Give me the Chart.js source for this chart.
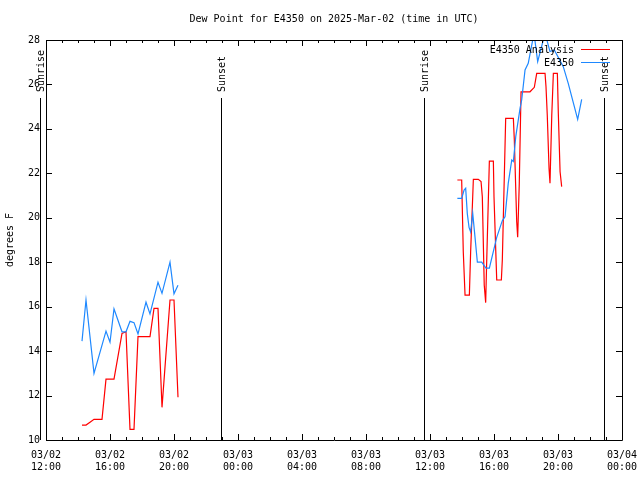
<!DOCTYPE html>
<html>
<head>
<meta charset="utf-8">
<script src="https://cdn.jsdelivr.net/npm/chart.js@4/dist/chart.umd.min.js"></script>
<style>
  html, body { margin: 0; padding: 0; background: #fff; }
  canvas { display: block; }
</style>
</head>
<body>
<canvas id="dewpoint" width="640" height="480"></canvas>
<script>
// Hours after 03/02 12:00 UTC (null value = gap between the two days)
const analysisHours = [
  2.25, 2.5, 2.75, 3.0, 3.5, 3.75, 4.25, 4.75, 5.0, 5.25, 5.5, 5.75, 6.5, 6.75, 7.0, 7.25, 7.75, 8.0, 8.25,
  16,
  25.71, 25.98, 26.08, 26.19, 26.46, 26.54, 26.71, 27.02, 27.19, 27.27, 27.39, 27.48, 27.54, 27.71, 27.96,
  28.0, 28.17, 28.46, 28.52, 28.73, 29.21, 29.27, 29.42, 29.48, 29.58, 29.69, 30.25, 30.52, 30.67, 31.19,
  31.25, 31.33, 31.44, 31.5, 31.61, 31.71, 31.96, 32.02, 32.13, 32.23
];
const analysisDew = [
  10.67, 10.67, 10.8, 10.93, 10.93, 12.74, 12.74, 14.8, 14.87, 10.48, 10.48, 14.65, 14.65, 15.92, 15.92, 11.47, 16.3, 16.3, 11.92,
  null,
  21.7, 21.7, 18.47, 16.52, 16.52, 18.47, 21.73, 21.73, 21.63, 20.95, 16.97, 16.18, 17.95, 22.55, 22.55,
  20.95, 17.2, 17.2, 18.1, 24.47, 24.47, 23.5, 19.82, 19.12, 21.55, 25.67, 25.67, 25.87, 26.5, 26.5,
  25.9, 24.6, 22.22, 21.55, 24.6, 26.5, 26.5, 24.7, 22.07, 21.4
];

const stationHours = [
  2.25, 2.5, 3.0, 3.75, 4.0, 4.25, 4.75, 5.0, 5.25, 5.5, 5.75, 6.25, 6.5, 7.0, 7.25, 7.75, 8.0, 8.25,
  16,
  25.71, 25.98, 26.13, 26.23, 26.33, 26.44, 26.54, 26.67, 26.81, 26.96, 27.23, 27.5, 27.71, 28.17, 28.52,
  28.69, 28.89, 29.11, 29.21, 29.36, 29.63, 29.73, 29.94, 30.14, 30.5, 30.73, 31.19, 31.5, 31.77, 32.33,
  32.64, 33.23, 33.48
];
const stationDew = [
  14.45, 16.3, 13.0, 14.9, 14.4, 15.9, 14.87, 14.87, 15.34, 15.28, 14.77, 16.2, 15.67, 17.1, 16.6, 18.0, 16.58, 16.96,
  null,
  20.87, 20.87, 21.25, 21.33, 20.2, 19.57, 19.37, 20.2, 19.15, 18.0, 18.0, 17.73, 17.73, 19.12, 19.87,
  20.05, 21.55, 22.6, 22.53, 23.65, 24.93, 25.3, 26.65, 26.95, 28.3, 27.03, 28.3, 27.48, 27.55, 26.8,
  26.05, 24.43, 25.33
];

// Sunrise / sunset markers (hours after 03/02 12:00 UTC)
const sunHours = [-0.375, 10.94, 23.625, 34.875];
const sunLabels = ["Sunrise", "Sunset", "Sunrise", "Sunset"];

// x tick labels every 4 hours
const tickDates = ["03/02", "03/02", "03/02", "03/03", "03/03", "03/03", "03/03", "03/03", "03/03", "03/04"];
const tickTimes = ["12:00", "16:00", "20:00", "00:00", "04:00", "08:00", "12:00", "16:00", "20:00", "00:00"];

const FONT = { family: "DejaVu Sans Mono", size: 10 };
const FONT_CSS = "10px 'DejaVu Sans Mono'";

const toPoints = (xs, ys) => xs.map((x, i) => ({ x: x, y: ys[i] }));

// gnuplot-like frame, inward ticks, sun lines, legend and title
const frame = {
  id: "frame",
  afterDraw(chart) {
    const { ctx, chartArea: a, scales } = chart;
    const xs = scales.x, ys = scales.y;
    const px = v => Math.round(v) + 0.5;
    ctx.save();
    ctx.strokeStyle = "#000";
    ctx.lineWidth = 1;
    ctx.beginPath();
    ctx.rect(px(a.left), px(a.top), Math.round(a.right) - Math.round(a.left), Math.round(a.bottom) - Math.round(a.top));
    // x ticks every hour, longer every 4 hours, bottom and top
    for (let h = 0; h <= 36; h++) {
      const x = px(xs.getPixelForValue(h));
      const len = h % 4 === 0 ? 6 : 3;
      ctx.moveTo(x, a.bottom); ctx.lineTo(x, a.bottom - len);
      ctx.moveTo(x, a.top); ctx.lineTo(x, a.top + len);
    }
    // y ticks on both sides
    ys.ticks.forEach(t => {
      const y = px(ys.getPixelForValue(t.value));
      ctx.moveTo(a.left, y); ctx.lineTo(a.left + 6, y);
      ctx.moveTo(a.right, y); ctx.lineTo(a.right - 6, y);
    });
    // sunrise / sunset lines
    sunHours.forEach(h => {
      const x = px(xs.getPixelForValue(h));
      ctx.moveTo(x, a.top + 58); ctx.lineTo(x, a.bottom);
    });
    ctx.stroke();

    ctx.fillStyle = "#000";
    ctx.font = FONT_CSS;
    sunHours.forEach((h, i) => {
      const x = xs.getPixelForValue(h);
      ctx.save();
      ctx.translate(x + 1, a.top + 52);
      ctx.rotate(-Math.PI / 2);
      ctx.textAlign = "left";
      ctx.textBaseline = "middle";
      ctx.fillText(sunLabels[i], 0, 0);
      ctx.restore();
    });

    // legend, top right inside the plot
    ctx.textAlign = "right";
    ctx.textBaseline = "middle";
    chart.data.datasets.forEach((ds, i) => {
      const y = a.top + 10 + 13 * i;
      ctx.fillStyle = "#000";
      ctx.fillText(ds.label, a.right - 48, y);
      ctx.strokeStyle = ds.borderColor;
      ctx.beginPath();
      ctx.moveTo(a.right - 41, px(y - 1)); ctx.lineTo(a.right - 12, px(y - 1));
      ctx.stroke();
    });

    // title
    ctx.fillStyle = "#000";
    ctx.textAlign = "center";
    ctx.fillText("Dew Point for E4350 on 2025-Mar-02 (time in UTC)", (a.left + a.right) / 2, 19);
    ctx.restore();
  }
};

new Chart("dewpoint", {
  type: "line",
  data: {
    datasets: [
      {
        label: "E4350 Analysis",
        data: toPoints(analysisHours, analysisDew),
        borderColor: "#ff0000",
        borderWidth: 1.2,
        pointRadius: 0,
        tension: 0,
        spanGaps: false,
        order: 1
      },
      {
        label: "E4350",
        data: toPoints(stationHours, stationDew),
        borderColor: "#1e88ff",
        borderWidth: 1.2,
        pointRadius: 0,
        tension: 0,
        spanGaps: false,
        order: 0
      }
    ]
  },
  options: {
    responsive: false,
    animation: false,
    layout: { padding: { top: 40, right: 18, left: 0, bottom: 0 } },
    plugins: {
      legend: { display: false },
      title: { display: false },
      tooltip: { enabled: false }
    },
    scales: {
      x: {
        type: "linear",
        min: 0,
        max: 36,
        grid: { display: false, drawTicks: false },
        border: { display: false },
        ticks: {
          stepSize: 4,
          autoSkip: false,
          maxRotation: 0,
          padding: 9,
          color: "#000",
          font: FONT,
          callback: v => [tickDates[v / 4], tickTimes[v / 4]]
        },
        afterFit: s => {
          s.height = 40;
          s.paddingLeft = 0;
          s.paddingRight = 0;
        }
      },
      y: {
        min: 10,
        max: 28,
        grid: { display: false, drawTicks: false },
        border: { display: false },
        ticks: { stepSize: 2, padding: 6, color: "#000", font: FONT },
        title: { display: true, text: "degrees F", color: "#000", font: FONT, padding: { top: 4, bottom: 0 } },
        afterFit: s => {
          s.width = 46;
          s.paddingTop = 0;
          s.paddingBottom = 0;
        }
      }
    }
  },
  plugins: [frame]
});
</script>
</body>
</html>
